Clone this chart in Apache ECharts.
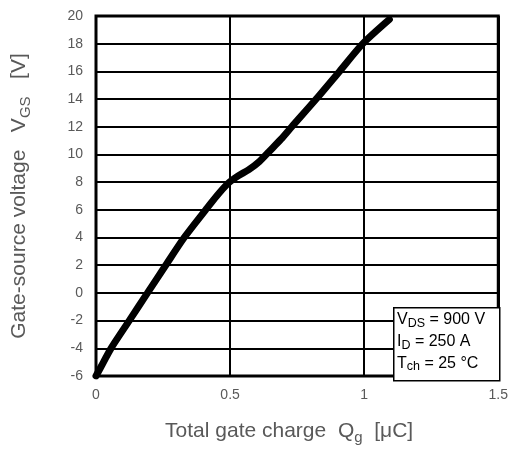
<!DOCTYPE html>
<html>
<head>
<meta charset="utf-8">
<script src="https://cdn.jsdelivr.net/npm/echarts@6/dist/echarts.min.js"></script>
<style>html,body{margin:0;padding:0;background:#fff}#c{width:511px;height:450px}</style>
</head>
<body>
<div id="c"></div>
<script>
// Total gate charge Qg [uC]
var qgValues = [0, 0.028, 0.056, 0.124, 0.192, 0.26, 0.329, 0.409, 0.45, 0.492, 0.53, 0.57, 0.61, 0.645, 0.69, 0.73, 0.821, 0.908, 0.995, 1.094];
// Gate-source voltage VGS [V]
var vgsValues = [-6, -5, -4, -2, 0, 2, 4, 6, 7, 7.9, 8.45, 8.9, 9.5, 10.2, 11.1, 12, 14, 16, 18, 19.75];
var xTicks = [0, 0.5, 1, 1.5];
var yTicks = [-6, -4, -2, 0, 2, 4, 6, 8, 10, 12, 14, 16, 18, 20];
var conditionLines = ['V{s|DS} = 900 V', 'I{s|D} = 250 A', 'T{s|ch} = 25 °C'];

var seriesData = qgValues.map(function (q, i) { return [q, vgsValues[i]]; });
var FONT = 'Liberation Sans, Arial, sans-serif';
var GRAY = '#595959';

var chart = echarts.init(document.getElementById('c'));
chart.setOption({
  animation: false,
  backgroundColor: '#fff',
  grid: { left: 96, right: 12, top: 16, bottom: 70, show: true, borderColor: '#000', borderWidth: 3, backgroundColor: 'transparent', z: 5 },
  xAxis: {
    type: 'value', min: xTicks[0], max: xTicks[xTicks.length - 1], interval: 0.5,
    axisLine: { show: false }, axisTick: { show: false },
    axisLabel: { color: GRAY, fontSize: 14, fontFamily: FONT, margin: 12, showMaxLabel: true },
    splitLine: { show: true, lineStyle: { color: '#000', width: 2 } },
    name: 'Total gate charge  Q{s|g}  [μC]', nameLocation: 'middle', nameGap: 42,
    nameTextStyle: { color: GRAY, fontSize: 21, fontFamily: FONT, padding: [0, 16, 0, 0],
      rich: { s: { fontSize: 15, fontFamily: FONT, color: GRAY, padding: [12, 0, 0, 0] } } }
  },
  yAxis: {
    type: 'value', min: yTicks[0], max: yTicks[yTicks.length - 1], interval: 2,
    axisLine: { show: false }, axisTick: { show: false },
    axisLabel: { color: GRAY, fontSize: 14, fontFamily: FONT, margin: 13 },
    splitLine: { show: true, lineStyle: { color: '#000', width: 2 } },
    name: 'Gate-source voltage   V{s|GS}   [V]', nameLocation: 'middle', nameGap: 63, nameRotate: 90,
    nameTextStyle: { color: GRAY, fontSize: 21, fontFamily: FONT,
      rich: { s: { fontSize: 15, fontFamily: FONT, color: GRAY, padding: [12, 0, 0, 0] } } }
  },
  series: [{
    type: 'line', data: seriesData, showSymbol: false, smooth: 0.25,
    lineStyle: { color: '#000', width: 7, cap: 'round' }, z: 3
  }],
  graphic: [
    { type: 'rect', left: 393, top: 307, z: 10, shape: { width: 106, height: 73 }, style: { fill: '#fff', stroke: '#000', lineWidth: 1.5 } }
  ].concat(conditionLines.map(function (t, i) {
    return { type: 'text', left: 397, top: 312 + i * 21.7, z: 11,
      style: { text: t, fill: '#000', font: '16px ' + FONT,
        rich: { s: { fontSize: 12.5, fontFamily: FONT, fill: '#000', padding: [7, 0, 0, 0] } } } };
  }))
});
</script>
</body>
</html>
